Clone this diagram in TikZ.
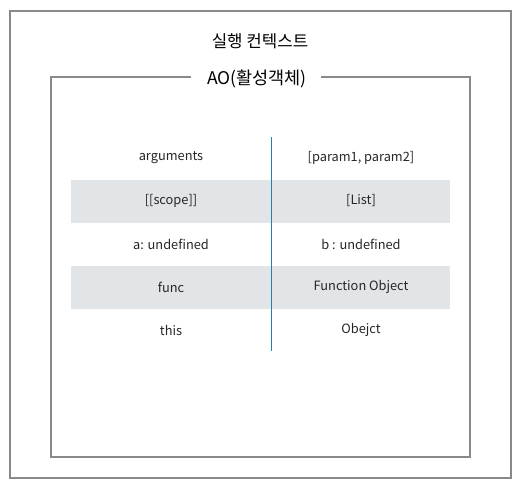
\documentclass[tikz,border=0pt]{standalone}
\usepackage{fontspec}
\setmainfont{Noto Sans CJK KR}
\definecolor{boxgray}{HTML}{88898B}
\definecolor{rowgray}{HTML}{E2E5E8}
\definecolor{divblue}{HTML}{2A7FAA}
\begin{document}
\begin{tikzpicture}[x=1pt,y=-1pt,
  frame/.style={draw=boxgray,line width=2pt},
  cell/.style={inner sep=0pt,anchor=center,font=\fontsize{12.8}{14}\selectfont,text=black!85},
  rowbg/.style={fill=rowgray,draw=none}]
\useasboundingbox (0,0) rectangle (524,488);
\node[draw=boxgray,line width=2pt,minimum width=501pt,minimum height=467pt,inner sep=0pt] (outer) at (260.5,244.5) {};
\node[inner sep=0pt,font=\fontsize{16.8}{18}\selectfont] (title) at (260,41) {실행 컨텍스트};
\node[inner sep=0pt,font=\fontsize{17.5}{19}\selectfont] (ao) at (257,79) {AO(활성객체)};
\draw[frame] (191,77) -- (51,77) -- (51,457) -- (470,457) -- (470,77) -- (321,77);
\fill[rowbg] (71,180) rectangle (450,223);
\fill[rowbg] (71,266) rectangle (450,309);
\coordinate (dtop) at (271,137);
\coordinate (dbot) at (271,351);
\draw[divblue,line width=1pt] (dtop) -- (dbot);
\node[cell] (l1) at (171,158) {arguments};
\node[cell] (r1) at (361,158) {[param1, param2]};
\node[cell] (l2) at (171,201) {[[scope]]};
\node[cell] (r2) at (361,201) {[List]};
\node[cell] (l3) at (171,244) {a: undefined};
\node[cell] (r3) at (361,244) {b : undefined};
\node[cell] (l4) at (171,287) {func};
\node[cell] (r4) at (361,287) {Function Object};
\node[cell] (l5) at (171,330) {this};
\node[cell] (r5) at (361,330) {Obejct};
\end{tikzpicture}
\end{document}
